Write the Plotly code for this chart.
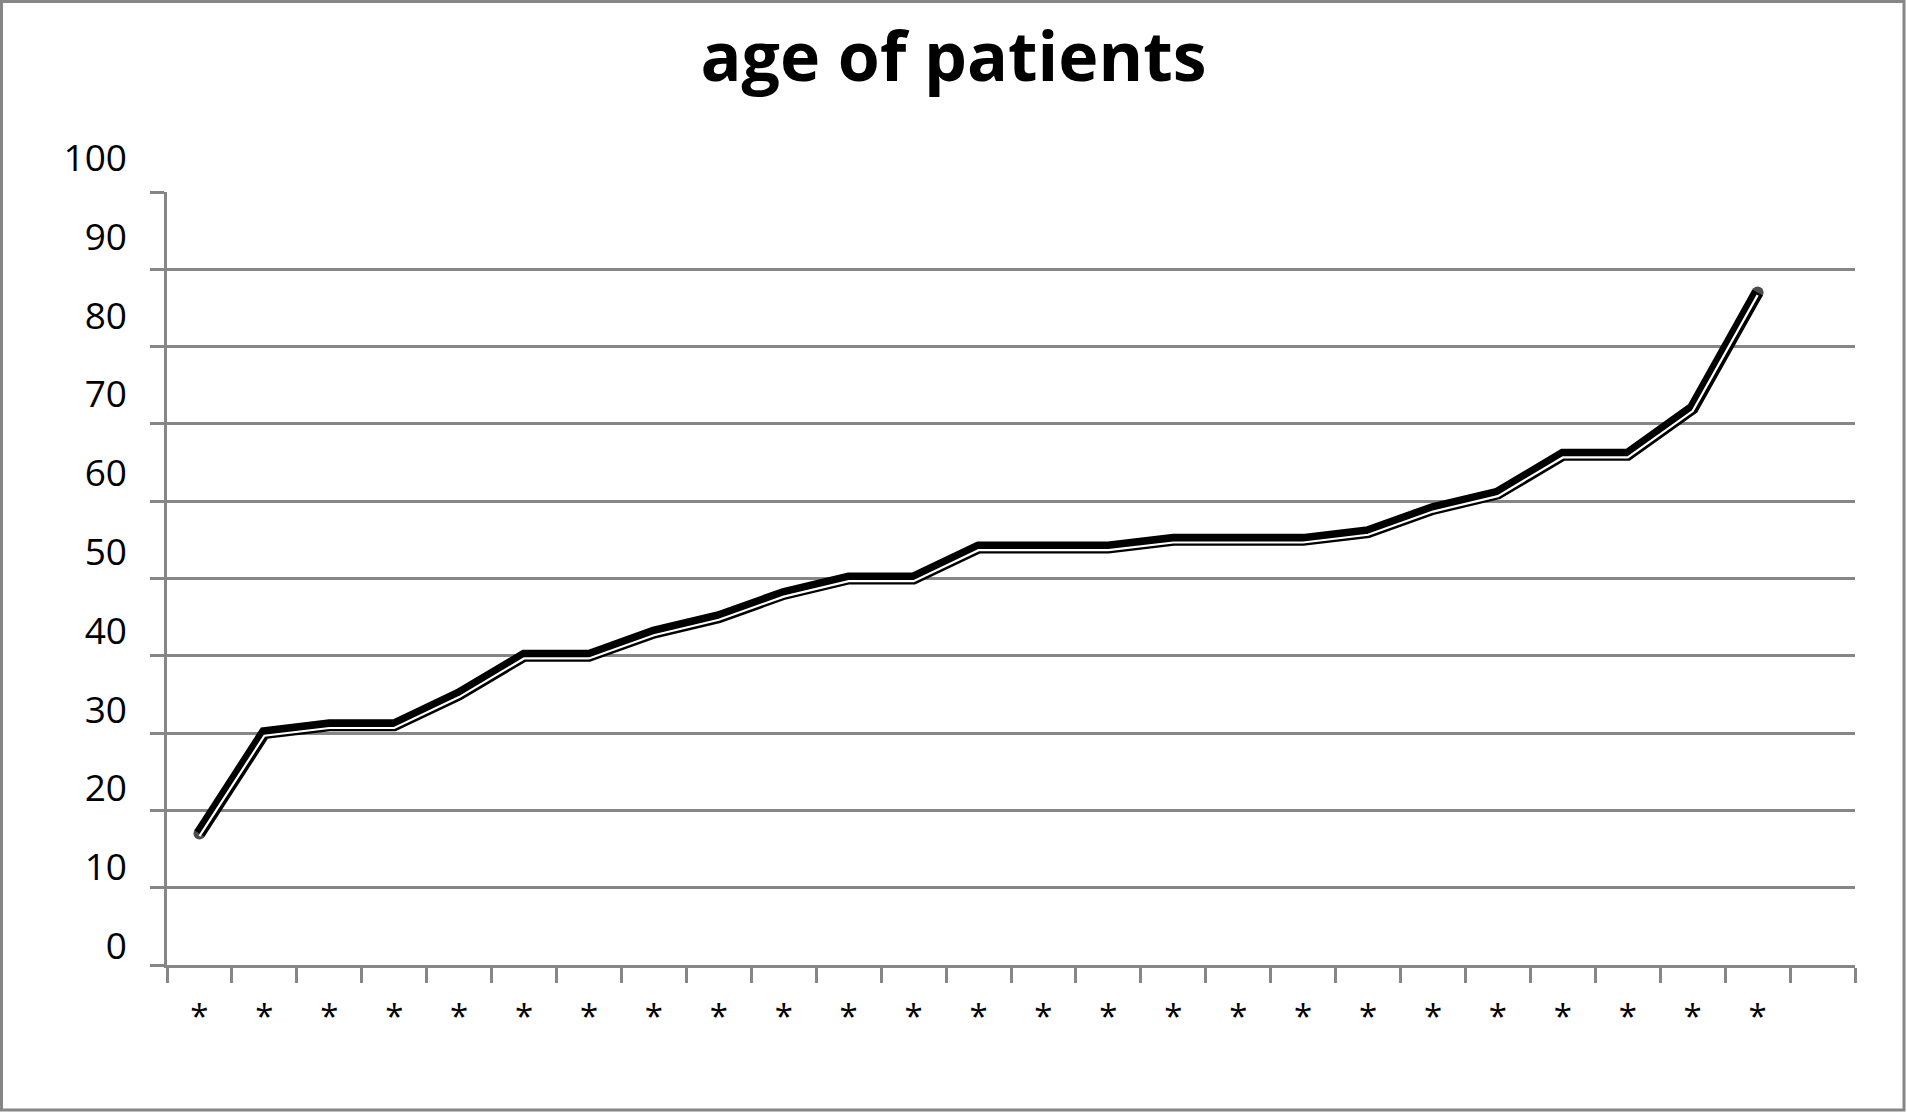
import plotly.graph_objects as go

# ---- data ----
patient_positions = list(range(1, 26))
ages = [17, 30, 31, 31, 35, 40, 40, 43, 45, 48, 50, 50, 54, 54, 54,
        55, 55, 55, 56, 59, 61, 66, 66, 72, 87]
x_tick_labels = ["*"] * 25
y_tick_values = [0, 10, 20, 30, 40, 50, 60, 70, 80, 90, 100]
y_tick_labels = [str(v) for v in y_tick_values]
category_bounds = [i + 0.5 for i in range(0, 27)]
title_text = "age of patients"

# ---- geometry (pixels) ----
W, H = 1907, 1113
ML, MR, MT, MB = 167, 52, 150, 148
PW = W - ML - MR
PH = H - MT - MB
bottom_px = H - MB           # 965


def fy(p):
    return (bottom_px - p) / PH


def fx(p):
    return (p - ML) / PW


GRAY = "#868686"
FONT = "Open Sans, Noto Sans, DejaVu Sans, sans-serif"

end_caps = [12 if i in (0, len(ages) - 1) else 0 for i in range(len(ages))]

fig = go.Figure()

# compound (thick-thin) line: thick black, then thin white gap offset downward
fig.add_trace(go.Scatter(
    x=patient_positions, y=ages, mode="lines+markers",
    line=dict(color="black", width=12),
    marker=dict(color="black", size=end_caps, line=dict(width=0)),
    hoverinfo="skip", showlegend=False,
))
fig.add_trace(go.Scatter(
    x=patient_positions, y=[a - 0.34 for a in ages], mode="lines",
    line=dict(color="white", width=2.2),
    hoverinfo="skip", showlegend=False,
))
# invisible trace carrying the label axis
fig.add_trace(go.Scatter(
    x=[patient_positions[0], patient_positions[-1]], y=[0, 100], yaxis="y2",
    mode="lines", line=dict(width=0), opacity=0,
    hoverinfo="skip", showlegend=False,
))

fig.update_layout(
    width=W, height=H,
    margin=dict(l=ML, r=MR, t=MT, b=MB, pad=0),
    paper_bgcolor="white",
    plot_bgcolor="rgba(0,0,0,0)",
    title=dict(
        text="<b>" + title_text + "</b>",
        x=0.5, xanchor="center",
        y=1 - 57 / H, yref="container", yanchor="middle",
        font=dict(family=FONT, size=68, color="black"),
    ),
    xaxis=dict(
        range=[0.5, 26.5],
        tickmode="array", tickvals=patient_positions, ticktext=x_tick_labels,
        ticks="", showgrid=False, zeroline=False,
        showline=True, linecolor=GRAY, linewidth=2.5,
        tickfont=dict(family=FONT, size=33, color="black"),
        ticklabelstandoff=21,
        minor=dict(tickmode="array", tickvals=category_bounds,
                   ticks="outside", ticklen=15, tickwidth=2.5,
                   tickcolor=GRAY, showgrid=False),
    ),
    yaxis=dict(
        range=[0, 100],
        domain=[0, fy(192)],
        tickmode="array", tickvals=y_tick_values,
        showticklabels=False,
        ticks="outside", ticklen=14, tickwidth=2.5, tickcolor=GRAY,
        showgrid=True, gridcolor=GRAY, gridwidth=2.5,
        zeroline=False,
        showline=True, linecolor=GRAY, linewidth=2.5,
    ),
    yaxis2=dict(
        range=[0, 100],
        domain=[fy(946), fy(158)],
        anchor="free", position=0, side="left",
        tickmode="array", tickvals=y_tick_values, ticktext=y_tick_labels,
        ticks="", showgrid=False, zeroline=False, showline=False,
        tickfont=dict(family=FONT, size=37, color="black"),
        ticklabelstandoff=40,
    ),
    shapes=[dict(
        type="rect", xref="paper", yref="paper",
        x0=fx(1.5), x1=fx(1904), y0=fy(1110), y1=fy(1.5),
        line=dict(color=GRAY, width=3), fillcolor="rgba(0,0,0,0)",
        layer="above",
    )],
)

fig.write_html(
    "out.html",
    config={"displayModeBar": False},
    post_script="document.body.style.margin='0';document.body.style.overflow='hidden';",
)
